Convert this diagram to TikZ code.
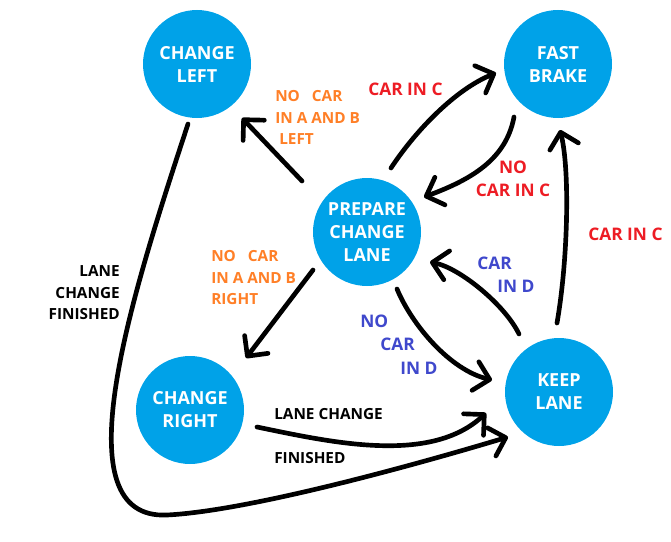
\documentclass[tikz,border=0pt]{standalone}
\usepackage{fontspec}
\setmainfont{Open Sans}
\usetikzlibrary{arrows.meta,calc}
\definecolor{stblue}{HTML}{00A2E8}
\definecolor{lblred}{HTML}{ED1C24}
\definecolor{lblorange}{HTML}{FF7F27}
\definecolor{lblindigo}{HTML}{3F48CC}
\begin{document}
\begin{tikzpicture}[x=0.75pt,y=-0.75pt,
 state/.style={circle,fill=stblue,minimum size=81pt,inner sep=0pt,text=white,font=\fontsize{13.5pt}{17.25pt}\selectfont\bfseries,align=center},
 conn/.style={line width=3.5pt,line cap=round,-{Straight Barb[length=11pt,width=22pt,round]}},
 lbl/.style={inner sep=0pt,font=\fontsize{13pt}{17.25pt}\selectfont\bfseries},
 smalllbl/.style={inner sep=0pt,font=\fontsize{11.5pt}{16pt}\selectfont\bfseries},
]
\useasboundingbox (0,0) rectangle (671,542);
\node[state] (cl) at (197,64) {CHANGE\\LEFT};
\node[state] (fb) at (558,64) {FAST\\BRAKE};
\node[state] (pcl) at (367,232) {PREPARE\\CHANGE\\LANE};
\node[state] (cr) at (190,410) {CHANGE\\RIGHT};
\node[state] (kl) at (559,392) {KEEP\\LANE};

\draw[conn] ($(pcl)+(-65,-51)$) -- ($(cl)+(45,54)$);
\draw[conn] ($(pcl)+(24,-64)$) .. controls (416,130) and (456,89) .. ($(fb)+(-62,9)$);
\draw[conn] ($(fb)+(-44,53)$) .. controls (506,160) and (470,180) .. ($(pcl)+(57,-35)$);
\draw[conn] ($(kl)+(-2,-69)$) .. controls (568,260) and (570,170) .. ($(fb)+(2,66)$);
\draw[conn] ($(kl)+(-40,-58)$) .. controls (505,305) and (460,268) .. ($(pcl)+(63,30)$);
\draw[conn] ($(pcl)+(30,57)$) .. controls (412,325) and (450,370) .. ($(kl)+(-67,-12)$);
\draw[conn] ($(pcl)+(-54,38)$) -- ($(cr)+(56,-52)$);
\draw[conn] ($(cr)+(67,17)$) .. controls (330,442) and (430,465) .. ($(kl)+(-73,21)$);
\draw[conn] ($(cl)+(-9,60)$) .. controls (130,300) and (60,520) .. (167,515) .. controls (247,511) and (408,467) .. ($(kl)+(-51,45)$);

\node[smalllbl,text=lblorange,anchor=north west,align=left] (lblL) at (275,90.5) {NO\hspace{6pt} CAR\\IN A AND B\\\hspace*{3pt}LEFT};
\node[smalllbl,text=lblorange,anchor=north west,align=left] (lblR) at (211,250.5) {NO\hspace{6pt} CAR\\IN A AND B\\RIGHT};
\node[lbl,text=lblred,anchor=north west] (lblC1) at (368,82.5) {CAR IN C};
\node[lbl,text=lblred,anchor=north,align=center] (lblNC) at (513,160.5) {NO\\CAR IN C};
\node[lbl,text=lblred,anchor=north west] (lblC2) at (588,227.5) {CAR IN C};
\node[lbl,text=lblindigo,anchor=north west,align=left] (lblD) at (477,256.5) {CAR\\\hspace*{15pt}IN D};
\node[lbl,text=lblindigo,anchor=north west,align=left,font=\fontsize{13pt}{17.6pt}\selectfont\bfseries] (lblND) at (360,314.5) {NO\\\hspace*{15pt}CAR\\\hspace*{30pt}IN D};
\node[smalllbl,anchor=north east,align=right] (lblF1) at (120,265.5) {LANE\\CHANGE\\FINISHED};
\node[smalllbl,anchor=north west] (lblF2a) at (274,408.5) {LANE CHANGE};
\node[smalllbl,anchor=north west] (lblF2b) at (274,452.5) {FINISHED};
\end{tikzpicture}
\end{document}
